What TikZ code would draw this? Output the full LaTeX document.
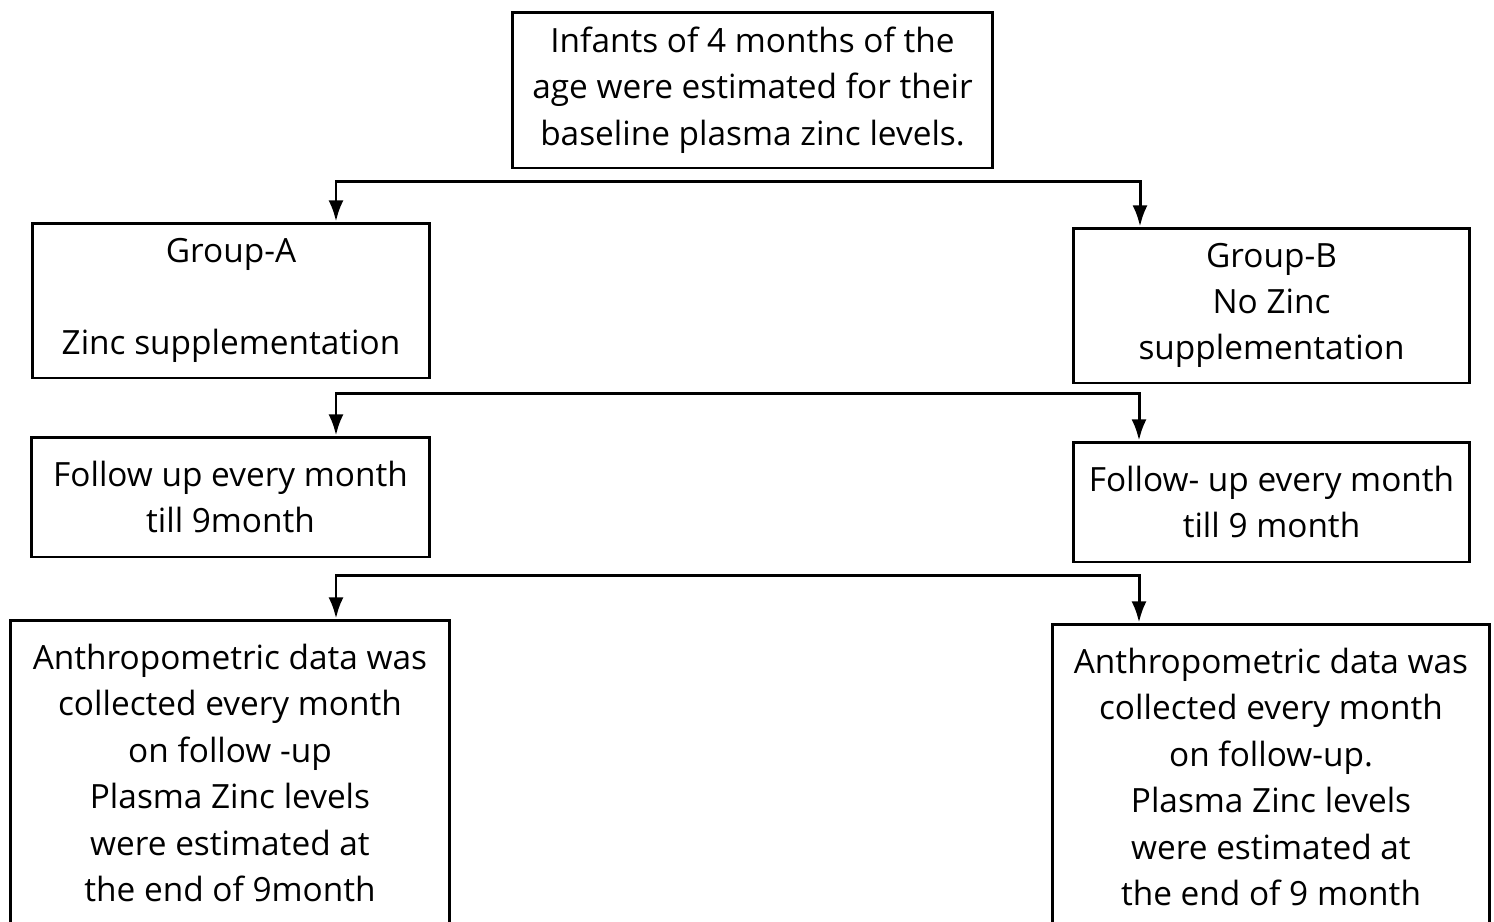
\documentclass[tikz,border=0pt]{standalone}
\usepackage{fontspec}
\usetikzlibrary{arrows.meta}
\setmainfont{Open Sans}
\begin{document}
\begin{tikzpicture}[>={Latex[length=12pt,width=8.5pt]}, x=0.02cm, y=-0.02cm,
    box/.style={draw, line width=1.7pt, align=center, inner sep=0pt,
      font=\fontsize{19}{26.4}\selectfont},
    link/.style={<->, line width=1.7pt}]
    \useasboundingbox (0,0) rectangle (1494,921);
    \clip (0,0) rectangle (1494,921);
    \node[box, minimum width=9.62cm, minimum height=3.12cm] (start) at (752.5,90)
      {Infants of 4 months of the\\age were estimated for their\\baseline plasma zinc levels.};
    \node[box, minimum width=7.96cm, minimum height=3.1cm] (grpA) at (231,300.5)
      {Group-A\\\mbox{}\\Zinc supplementation};
    \node[box, minimum width=7.94cm, minimum height=3.1cm] (grpB) at (1271.5,305.5)
      {Group-B\\No Zinc\\supplementation};
    \node[box, minimum width=7.98cm, minimum height=2.4cm] (fupA) at (230.5,497)
      {Follow up every month\\till 9month};
    \node[box, minimum width=7.94cm, minimum height=2.4cm] (fupB) at (1271.5,502)
      {Follow- up every month\\till 9 month};
    \node[box, minimum width=8.8cm, minimum height=6.12cm] (anthA) at (230,773)
      {Anthropometric data was\\collected every month\\on follow -up\\Plasma Zinc levels\\were estimated at\\the end of 9month};
    \node[box, minimum width=8.76cm, minimum height=6.12cm] (anthB) at (1271,777)
      {Anthropometric data was\\collected every month\\on follow-up.\\Plasma Zinc levels\\were estimated at\\the end of 9 month};
    \coordinate (s1) at (336,181);
    \coordinate (t1) at (1140,181);
    \coordinate (s2) at (336,393);
    \coordinate (t2) at (1139,393);
    \coordinate (s3) at (336,575);
    \coordinate (t3) at (1139,575);
    \draw[link] (s1 |- grpA.north) -- (s1) -- (t1) -- (t1 |- grpB.north);
    \draw[link] (s2 |- fupA.north) -- (s2) -- (t2) -- (t2 |- fupB.north);
    \draw[link] (s3 |- anthA.north) -- (s3) -- (t3) -- (t3 |- anthB.north);
\end{tikzpicture}
\end{document}
